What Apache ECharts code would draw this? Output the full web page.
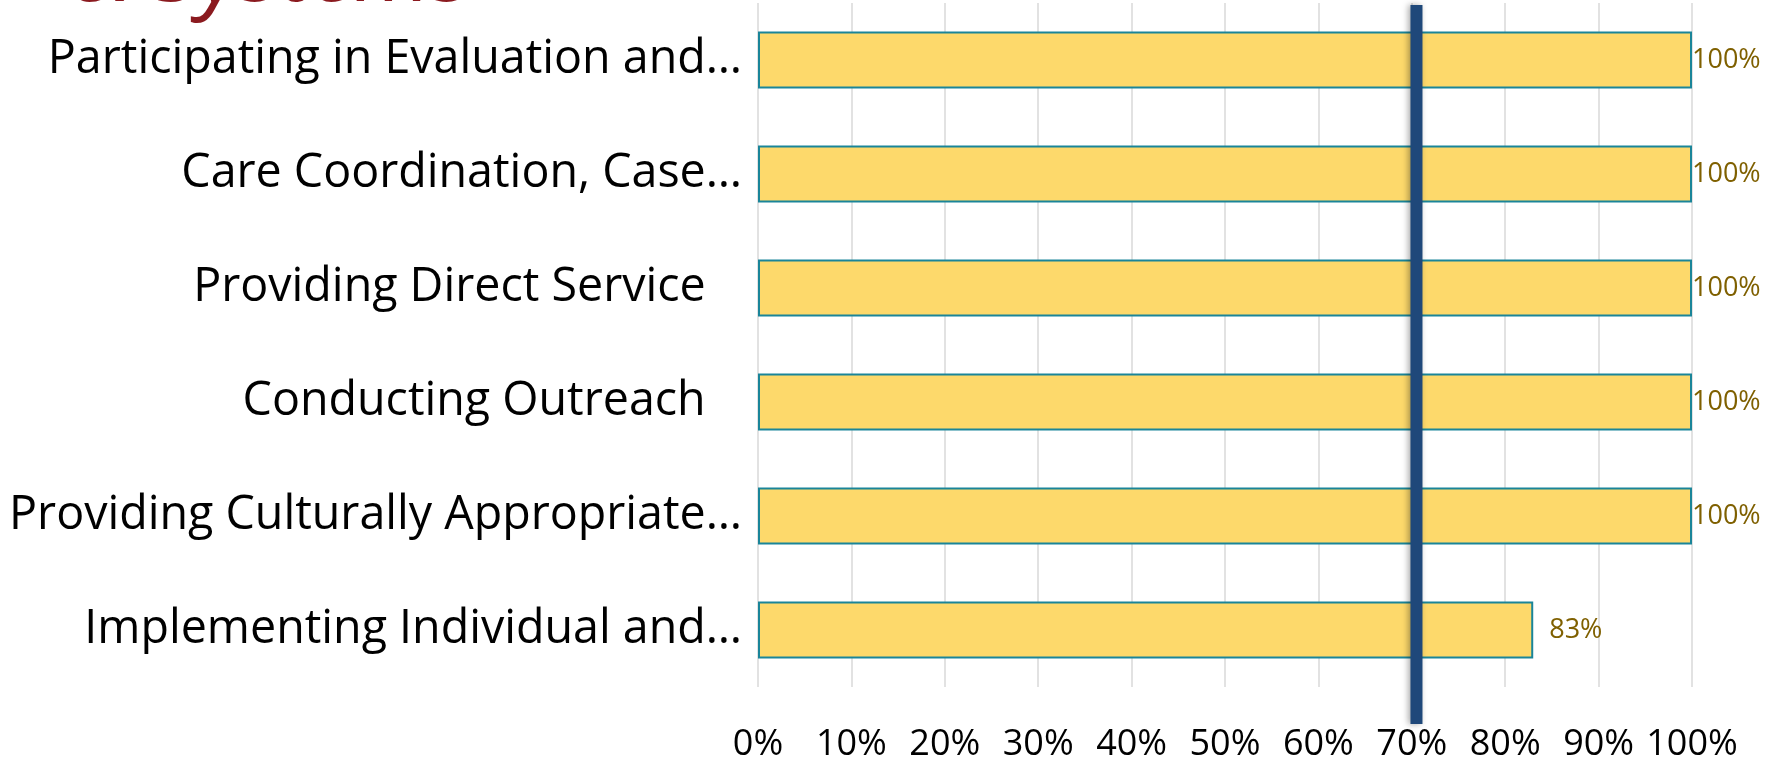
<!DOCTYPE html>
<html>
<head>
<meta charset="utf-8">
<script src="https://cdn.jsdelivr.net/npm/echarts@6/dist/echarts.min.js"></script>
<style>
  html, body { margin: 0; padding: 0; background: #ffffff; }
  #chart { width: 1779px; height: 760px; }
</style>
</head>
<body>
<div id="chart"></div>
<script>
// ---- data ----
const categories = [
  'Participating in Evaluation and\u2026',
  'Care Coordination, Case\u2026',
  'Providing Direct Service   ',
  'Conducting Outreach   ',
  'Providing Culturally Appropriate\u2026',
  'Implementing Individual and\u2026'
];
const values = [100, 100, 100, 100, 100, 83];
const targetValue = 70.5;
const xTicks = { min: 0, max: 100, interval: 10 };
const titleFragment = '& Systems';

const FONT = '"Open Sans", "Noto Sans", sans-serif';

const chart = echarts.init(document.getElementById('chart'), null, { renderer: 'canvas' });

const barData = values.map(v => ({
  value: v,
  label: { distance: v >= 100 ? 0 : 16 }
}));

const option = {
  backgroundColor: '#ffffff',
  animation: false,
  graphic: [{
    type: 'text',
    left: 70,
    top: -70,
    style: {
      text: titleFragment,
      font: 'italic 400 90px ' + FONT,
      fill: '#8B1A1F',
      shadowColor: 'rgba(0,0,0,0.35)',
      shadowBlur: 4,
      shadowOffsetX: 2,
      shadowOffsetY: 2
    }
  }],
  grid: [
    { left: 758, right: 87, top: 3, bottom: 73, containLabel: false, outerBoundsMode: 'none' },
    { left: 758, right: 87, top: 5, bottom: 36, containLabel: false, outerBoundsMode: 'none' }
  ],
  xAxis: [{
    type: 'value',
    gridIndex: 0,
    min: xTicks.min,
    max: xTicks.max,
    interval: xTicks.interval,
    axisLine: { show: false },
    axisTick: { show: false },
    splitLine: { show: true, lineStyle: { color: '#D9D9D9', width: 1.5 } },
    axisLabel: {
      formatter: '{value}%',
      color: '#000000',
      fontFamily: FONT,
      fontSize: 36,
      margin: 40
    }
  }, {
    type: 'value',
    gridIndex: 1,
    min: xTicks.min,
    max: xTicks.max,
    show: false
  }],
  yAxis: [{
    type: 'category',
    gridIndex: 0,
    data: categories,
    inverse: true,
    axisLine: { show: false },
    axisTick: { show: false },
    splitLine: { show: false },
    axisLabel: {
      color: '#000000',
      fontFamily: FONT,
      fontSize: 46.6,
      margin: 16
    }
  }, {
    type: 'value',
    gridIndex: 1,
    min: 0,
    max: 1,
    show: false
  }],
  series: [{
    type: 'bar',
    xAxisIndex: 0,
    yAxisIndex: 0,
    data: barData,
    barCategoryGap: '50%',
    itemStyle: {
      color: '#FDD96B',
      borderColor: '#1A8599',
      borderWidth: 2
    },
    label: {
      show: true,
      position: 'right',
      formatter: '{c}%',
      color: '#7F6000',
      fontFamily: FONT,
      fontSize: 27
    },
    z: 2
  }, {
    type: 'line',
    xAxisIndex: 1,
    yAxisIndex: 1,
    data: [[targetValue, 0], [targetValue, 1]],
    symbol: 'none',
    silent: true,
    lineStyle: {
      color: '#1F487A',
      width: 12,
      cap: 'butt',
      shadowColor: 'rgba(0,0,0,0.35)',
      shadowBlur: 6,
      shadowOffsetX: -2,
      shadowOffsetY: 0
    },
    z: 5
  }]
};

chart.setOption(option);
</script>
</body>
</html>
